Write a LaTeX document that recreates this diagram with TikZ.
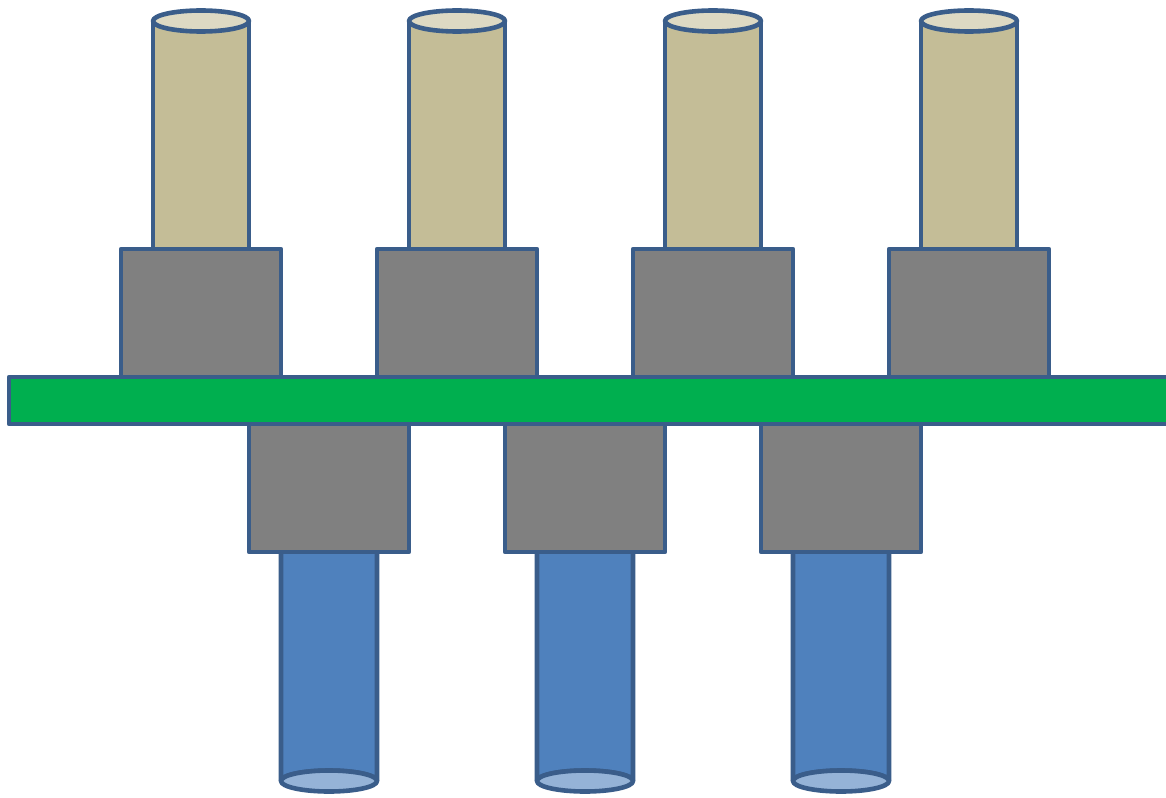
\documentclass[tikz,border=0pt]{standalone}
\begin{document}
\begin{tikzpicture}[x=1pt,y=-1pt,
  outline/.style={draw=edgeblue,line width=4.6pt,line join=round},
  pinbody/.style={outline,fill=pintan},
  pincap/.style={outline,fill=pincap},
  leadbody/.style={outline,fill=leadblue},
  leadcap/.style={outline,fill=leadcap},
  spacer/.style={outline,fill=spacergray},
  board/.style={outline,fill=boardgreen}]
\definecolor{edgeblue}{HTML}{3A5D8A}
\definecolor{pintan}{HTML}{C4BD97}
\definecolor{pincap}{HTML}{DDD9C3}
\definecolor{leadblue}{HTML}{4F81BD}
\definecolor{leadcap}{HTML}{95B3D7}
\definecolor{spacergray}{HTML}{808080}
\definecolor{boardgreen}{HTML}{00AF4F}
\useasboundingbox (0,0) rectangle (1166,797);
\clip (0,0) rectangle (1166,797);
% upper pins with their spacers
\foreach \cx in {201,457,713,969}{
  \draw[pinbody] (\cx-48,21) -- (\cx-48,250) -- (\cx+48,250) -- (\cx+48,21);
  \draw[pincap] (\cx,21) ellipse [x radius=48, y radius=10.5];
  \draw[spacer] (\cx-80,249) rectangle (\cx+80,377);
}
% lower leads with their spacers
\foreach \cx in {329,585,841}{
  \draw[leadbody] (\cx-48,550) -- (\cx-48,781) arc[start angle=180,end angle=360,x radius=48,y radius=10.5] -- (\cx+48,550);
  \draw[leadcap] (\cx,781) ellipse [x radius=48, y radius=10.5];
  \draw[spacer] (\cx-80,424) rectangle (\cx+80,552);
}
% circuit board
\draw[board] (9,377) rectangle (1185,424);
\end{tikzpicture}
\end{document}
